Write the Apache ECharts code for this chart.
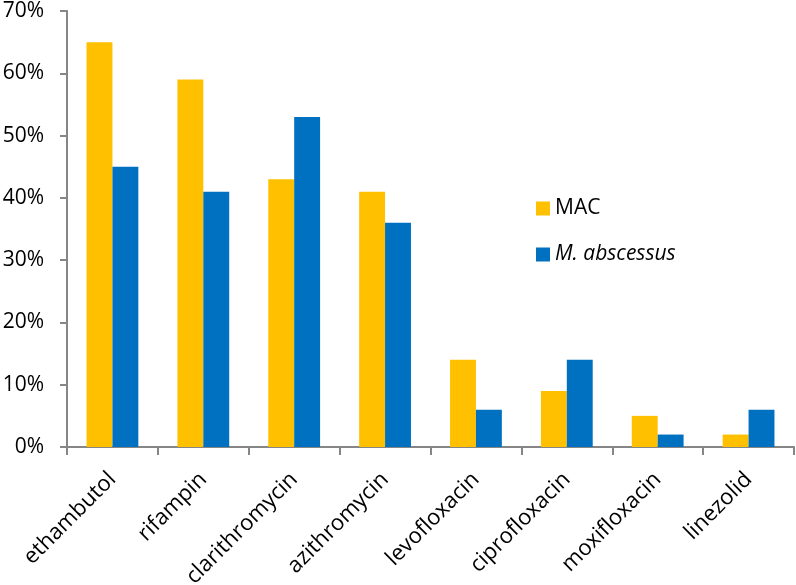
<!DOCTYPE html>
<html><head><meta charset="utf-8">
<script src="https://cdn.jsdelivr.net/npm/echarts@6/dist/echarts.min.js"></script>
<style>html,body{margin:0;padding:0;background:#fff}#c{width:796px;height:585px}</style>
</head><body><div id="c"></div>
<script>
const categories = ['ethambutol','rifampin','clarithromycin','azithromycin','levofloxacin','ciprofloxacin','moxifloxacin','linezolid'];
const macValues = [65, 59, 43, 41, 14, 9, 5, 2];
const abscessusValues = [45, 41, 53, 36, 6, 14, 2, 6];
const seriesNames = ['MAC', 'M. abscessus'];
const yTicks = {min: 0, max: 70, interval: 10};

const FONT = 'Open Sans';
const FS = 21;
const axisGray = '#868686';
const chart = echarts.init(document.getElementById('c'), null, {renderer: 'canvas'});
chart.setOption({
  animation: false,
  grid: {left: 67, right: 2, top: 11, bottom: 138, containLabel: false, outerBoundsMode: 'none'},
  legend: {
    orient: 'vertical', left: 531, top: 193, itemWidth: 14, itemHeight: 14, itemGap: 25,
    icon: 'rect',
    textStyle: {fontFamily: FONT, fontSize: FS, color: '#000',
      rich: {i: {fontFamily: FONT, fontSize: FS, fontStyle: 'italic', color: '#000'}}},
    formatter: n => n === 'M. abscessus' ? '{i|' + n + '}' : n,
    data: seriesNames
  },
  xAxis: {
    type: 'category', data: categories,
    axisLine: {lineStyle: {color: axisGray, width: 2}},
    axisTick: {show: true, length: 8, lineStyle: {color: axisGray, width: 2}},
    axisLabel: {rotate: 45, margin: 29, fontFamily: FONT, fontSize: 22, color: '#000', interval: 0}
  },
  yAxis: {
    type: 'value', min: yTicks.min, max: yTicks.max, interval: yTicks.interval,
    axisLine: {show: true, lineStyle: {color: axisGray, width: 2}},
    axisTick: {show: true, length: 7, lineStyle: {color: axisGray, width: 2}},
    splitLine: {show: false},
    axisLabel: {margin: 23, fontFamily: FONT, fontSize: FS, color: '#000', formatter: v => v + '%'}
  },
  series: [
    {name: seriesNames[0], type: 'bar', data: macValues, itemStyle: {color: '#FFC000'}, barGap: '0%', barCategoryGap: '43%'},
    {name: seriesNames[1], type: 'bar', data: abscessusValues, itemStyle: {color: '#0070C0'}, barGap: '0%', barCategoryGap: '43%'}
  ]
});
</script></body></html>
